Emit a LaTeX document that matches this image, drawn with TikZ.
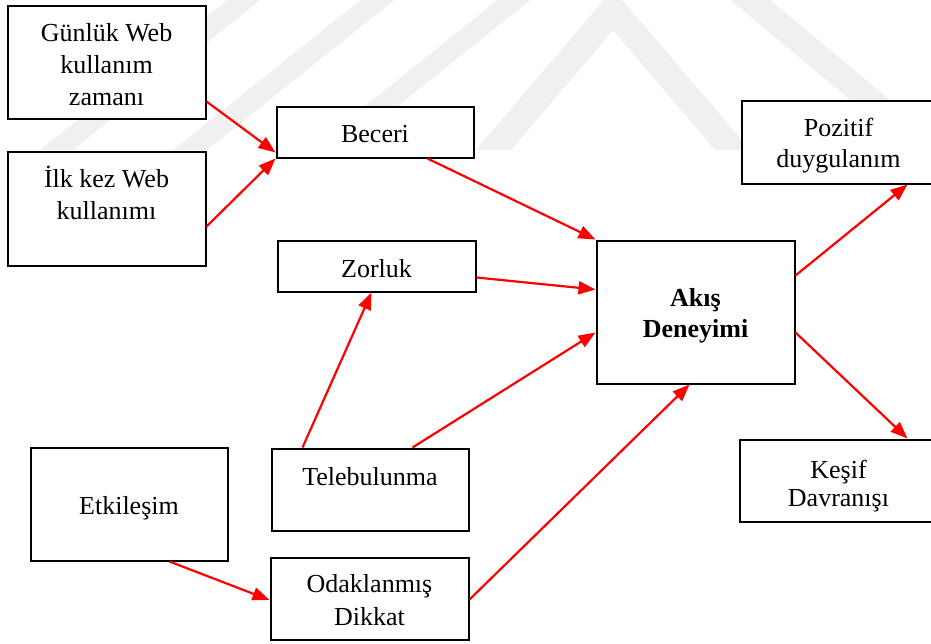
\documentclass[tikz,border=0pt]{standalone}
\usepackage{fontspec}
\setmainfont{Liberation Serif}
\usetikzlibrary{arrows.meta}
\definecolor{wm}{RGB}{240,240,240}
\definecolor{arrred}{RGB}{255,0,0}
\tikzset{
  box/.style={draw=black, line width=2pt, fill=white, inner sep=0pt},
  txt/.style={inner sep=0pt, align=center, font=\fontsize{26}{32}\selectfont},
  arr/.style={draw=arrred, line width=2.2pt, -{Triangle[length=17pt,width=13pt]}},
  wmark/.style={fill=wm}
}
\begin{document}
\begin{tikzpicture}[x=1pt, y=-1pt]
\useasboundingbox (0,0) rectangle (931,643);
\clip (0,0) rectangle (931,643);
% watermark
\fill[wmark] (40,150) -- (73,150) -- (260.5,0) -- (227.5,0) -- cycle;
\fill[wmark] (173,150) -- (207,150) -- (394.5,0) -- (360.5,0) -- cycle;
\fill[wmark] (310,150) -- (343,150) -- (530.5,0) -- (497.5,0) -- cycle;
\fill[wmark] (476,150) -- (613,-11) -- (750,150) -- (715,150) -- (613,30) -- (511,150) -- cycle;
\fill[wmark] (730,0) -- (770,0) -- (950,150) -- (910,150) -- cycle;
% boxes
\node[box, minimum width=198pt, minimum height=113pt] (gunluk) at (106.5,62) {};
\node[box, minimum width=198pt, minimum height=114pt] (ilk) at (106.5,208.5) {};
\node[box, minimum width=197pt, minimum height=51pt] (beceri) at (375,132) {};
\node[box, minimum width=198pt, minimum height=51pt] (zorluk) at (376.5,266) {};
\node[box, minimum width=198pt, minimum height=143pt] (akis) at (695.5,312) {};
\node[box, minimum width=192pt, minimum height=83pt] (pozitif) at (837.5,142) {};
\node[box, minimum width=194pt, minimum height=82pt] (kesif) at (836.5,480.5) {};
\node[box, minimum width=197pt, minimum height=113pt] (etki) at (129,504) {};
\node[box, minimum width=197pt, minimum height=82pt] (tele) at (370,489.5) {};
\node[box, minimum width=198pt, minimum height=82pt] (odak) at (369.5,598.5) {};
% texts
\node[txt] (gunlukT) at (106.5,64.5) {Günlük Web\\kullanım\\zamanı};
\node[txt] (ilkT) at (106.5,213.5) {İlk kez Web\\kullanımı\\\strut};
\node[txt] (beceriT) at (375,134) {Beceri};
\node[txt] (zorlukT) at (376.5,269) {Zorluk};
\node[txt, font=\fontsize{26}{31}\selectfont\bfseries] (akisT) at (695.5,316) {Akış\\Deneyimi};
\node[txt, font=\fontsize{26}{30.5}\selectfont] (pozitifT) at (838.5,145.5) {Pozitif\\duygulanım};
\node[txt, font=\fontsize{26}{28.5}\selectfont] (kesifT) at (838.5,486) {Keşif\\Davranışı};
\node[txt] (etkiT) at (129,508) {Etkileşim};
\node[txt] (teleT) at (370,497.5) {Telebulunma\\\strut};
\node[txt, font=\fontsize{26}{33}\selectfont] (odakT) at (369.5,600) {Odaklanmış\\Dikkat};
% connectors
\draw[arr] ([yshift=18pt]gunluk.south east) -- ([yshift=6pt]beceri.south west);
\draw[arr] ([yshift=40pt]ilk.south east) -- (beceri.south west);
\draw[arr] ([xshift=-47pt]beceri.south east) -- (akis.north west);
\draw[arr] ([yshift=15pt]zorluk.south east) -- ([yshift=-50pt]akis.north west);
\draw[arr] ([xshift=32pt]tele.north west) -- ([xshift=95pt]zorluk.south west);
\draw[arr] ([xshift=142pt]tele.north west) -- ([yshift=-93pt]akis.north west);
\draw[arr] ([yshift=-43pt]odak.north east) -- ([xshift=94pt]akis.south west);
\draw[arr] ([xshift=140pt]etki.south west) -- ([yshift=-1.5pt]odak.west);
\draw[arr] ([yshift=-36pt]akis.north east) -- ([xshift=167pt]pozitif.south west);
\draw[arr] ([yshift=-93pt]akis.north east) -- ([xshift=169pt]kesif.north west);
\end{tikzpicture}
\end{document}
